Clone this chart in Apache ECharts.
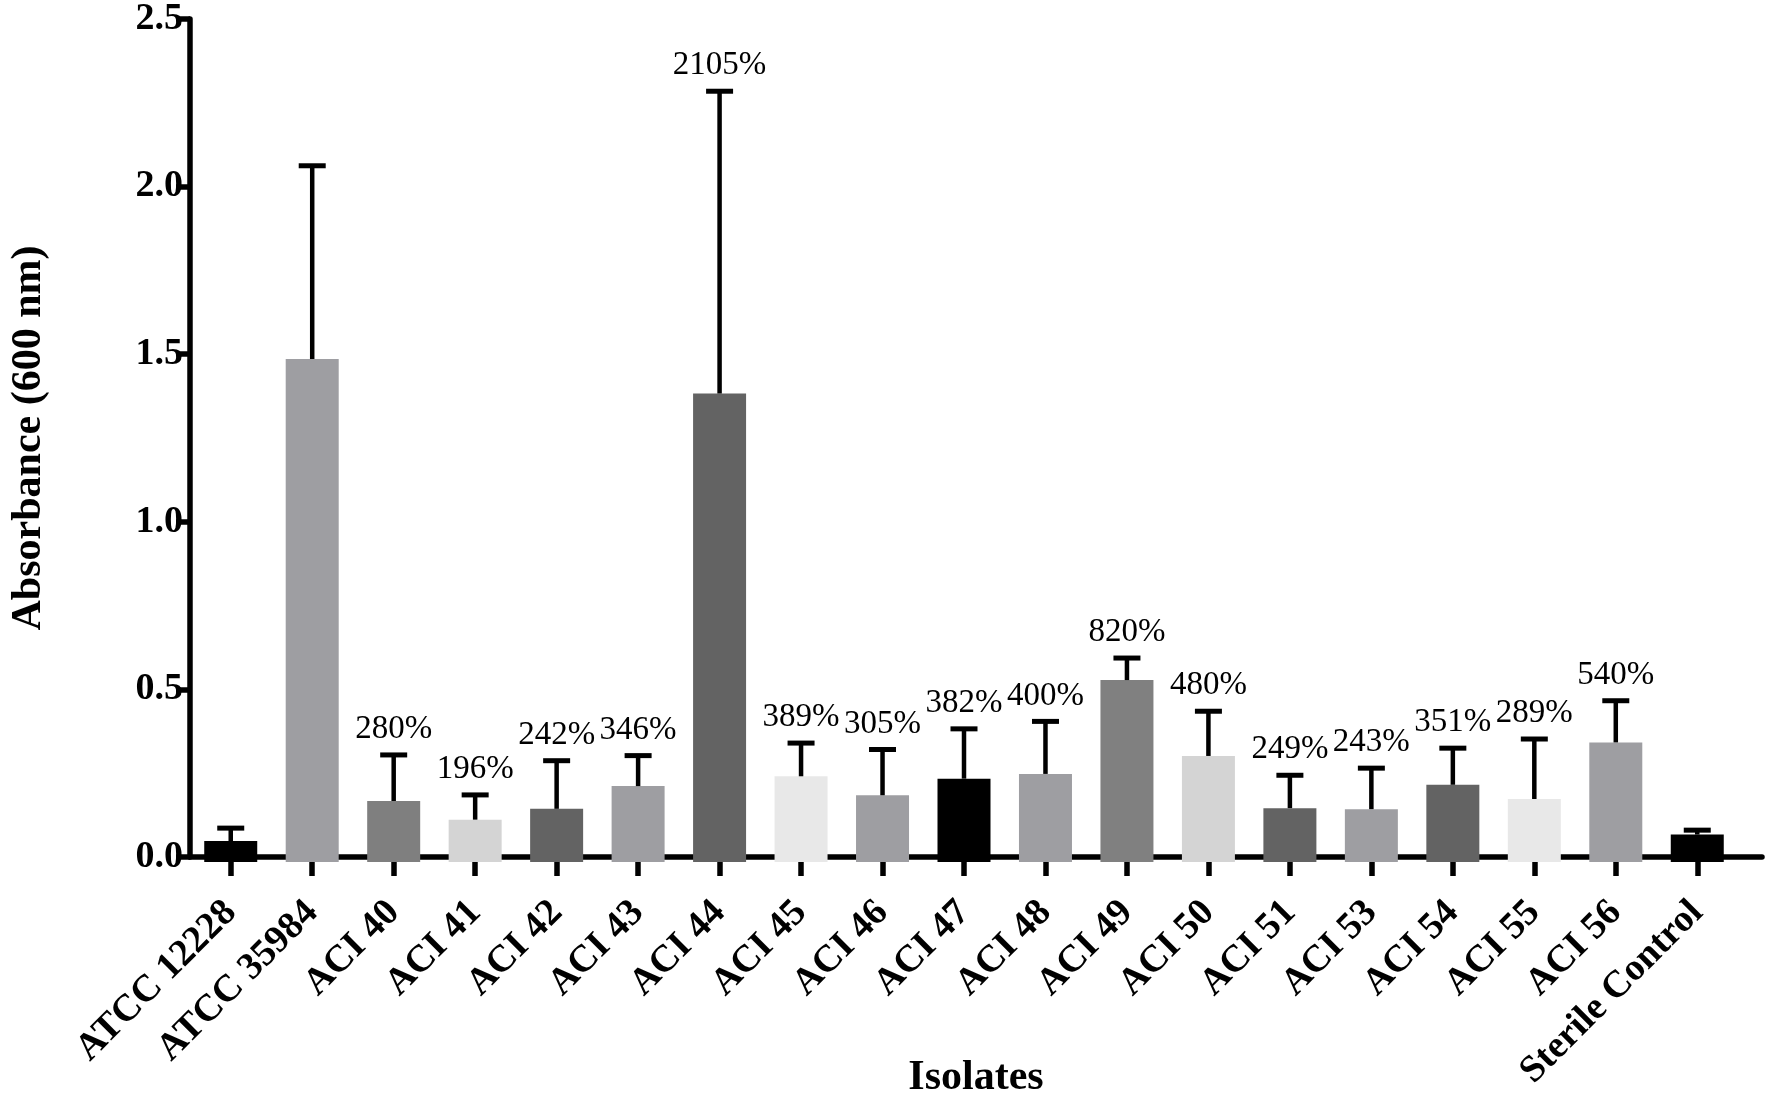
<!DOCTYPE html>
<html lang="en">
<head>
    <meta charset="UTF-8">
    <title>Absorbance by isolate</title>
    <style type="text/css">
        html,body{margin:0;padding:0;background:#fff;}
        #main{width:1765px;height:1104px;}
    </style>
</head>
<body>
<div id="main"></div>
<script src="https://cdn.jsdelivr.net/npm/echarts@6/dist/echarts.min.js"></script>
<script>
    var isolates = ['ATCC 12228', 'ATCC 35984', 'ACI 40', 'ACI 41', 'ACI 42', 'ACI 43', 'ACI 44',
        'ACI 45', 'ACI 46', 'ACI 47', 'ACI 48', 'ACI 49', 'ACI 50', 'ACI 51', 'ACI 53',
        'ACI 54', 'ACI 55', 'ACI 56', 'Sterile Control'];
    // mean absorbance and SD (upper error bar only)
    var absorbance = [0.062, 1.485, 0.180, 0.125, 0.157, 0.224, 1.383, 0.253, 0.197, 0.246,
        0.260, 0.537, 0.313, 0.159, 0.156, 0.228, 0.186, 0.353, 0.081];
    var sd = [0.038, 0.570, 0.136, 0.073, 0.142, 0.090, 0.892, 0.098, 0.135, 0.147,
        0.155, 0.065, 0.132, 0.097, 0.121, 0.108, 0.177, 0.123, 0.013];
    var percent = ['', '', '280%', '196%', '242%', '346%', '2105%', '389%', '305%', '382%',
        '400%', '820%', '480%', '249%', '243%', '351%', '289%', '540%', ''];
    var barColors = ['#000000', '#9e9ea2', '#7f7f7f', '#d4d4d4', '#636363', '#9e9ea2', '#636363',
        '#e8e8e8', '#9e9ea2', '#000000', '#9e9ea2', '#808080', '#d4d4d4', '#636363', '#9e9ea2',
        '#636363', '#e8e8e8', '#9e9ea2', '#000000'];
    var yTicks = [0, 0.5, 1.0, 1.5, 2.0, 2.5];

    var serif = 'Liberation Serif';
    var lineW = 5.5;

    var barData = absorbance.map(function (v, i) {
        return {value: v, itemStyle: {color: barColors[i]}};
    });
    var errData = absorbance.map(function (v, i) {
        return [i, v, v + sd[i]];
    });

    var myChart = echarts.init(document.getElementById('main'));

    // grid 0 only carries the axis frame, grid 1 holds the bars (they start a bit right of the y axis)
    var option = {
        backgroundColor: '#ffffff',
        animation: false,
        grid: [
            {left: 176, right: 3, top: 15, bottom: 242},
            {left: 190, right: 27, top: 15, bottom: 242}
        ],
        xAxis: [
            {
                gridIndex: 0,
                type: 'value',
                min: 0,
                max: 1,
                axisLine: {show: true, lineStyle: {color: '#000', width: lineW}},
                axisTick: {show: false},
                axisLabel: {show: false},
                splitLine: {show: false},
                name: 'Isolates',
                nameLocation: 'middle',
                nameGap: 200,
                nameTextStyle: {color: '#000', fontFamily: serif, fontWeight: 'bold', fontSize: 42}
            },
            {
                gridIndex: 1,
                type: 'category',
                data: isolates,
                axisLine: {show: false},
                axisTick: {show: true, alignWithLabel: true, length: 14, lineStyle: {color: '#000', width: lineW}},
                axisLabel: {
                    rotate: 45,
                    interval: 0,
                    margin: 45,
                    color: '#000',
                    fontFamily: serif,
                    fontWeight: 'bold',
                    fontSize: 38
                },
                splitLine: {show: false}
            }
        ],
        yAxis: [
            {
                gridIndex: 0,
                type: 'value',
                min: yTicks[0],
                max: yTicks[yTicks.length - 1],
                interval: 0.5,
                axisLine: {show: true, lineStyle: {color: '#000', width: lineW}},
                axisTick: {show: true, length: 14, lineStyle: {color: '#000', width: lineW}},
                axisLabel: {
                    margin: 7,
                    color: '#000',
                    fontFamily: serif,
                    fontWeight: 'bold',
                    fontSize: 38,
                    formatter: function (v) { return v.toFixed(1); }
                },
                splitLine: {show: false},
                name: 'Absorbance (600 nm)',
                nameLocation: 'middle',
                nameRotate: 90,
                nameGap: 140,
                nameTextStyle: {color: '#000', fontFamily: serif, fontWeight: 'bold', fontSize: 42}
            },
            {
                gridIndex: 1,
                type: 'value',
                min: yTicks[0],
                max: yTicks[yTicks.length - 1],
                show: false
            }
        ],
        series: [
            {
                name: 'Absorbance',
                type: 'bar',
                xAxisIndex: 1,
                yAxisIndex: 1,
                barWidth: 53,
                data: barData,
                z: 2
            },
            {
                name: 'SD',
                type: 'custom',
                xAxisIndex: 1,
                yAxisIndex: 1,
                z: 3,
                data: errData,
                renderItem: function (params, api) {
                    var i = api.value(0);
                    var base = api.coord([i, api.value(1)]);
                    var top = api.coord([i, api.value(2)]);
                    var half = 13.5;
                    var children = [
                        {
                            type: 'line',
                            shape: {x1: base[0], y1: base[1], x2: top[0], y2: top[1]},
                            style: {stroke: '#000', lineWidth: 4.5}
                        },
                        {
                            type: 'line',
                            shape: {x1: top[0] - half, y1: top[1], x2: top[0] + half, y2: top[1]},
                            style: {stroke: '#000', lineWidth: 5}
                        }
                    ];
                    if (percent[i]) {
                        children.push({
                            type: 'text',
                            style: {
                                text: percent[i],
                                x: top[0],
                                y: top[1] - 9,
                                align: 'center',
                                verticalAlign: 'bottom',
                                fill: '#000',
                                font: '33px "Liberation Serif"'
                            }
                        });
                    }
                    return {type: 'group', children: children};
                }
            }
        ]
    };

    myChart.setOption(option);
</script>
</body>
</html>
